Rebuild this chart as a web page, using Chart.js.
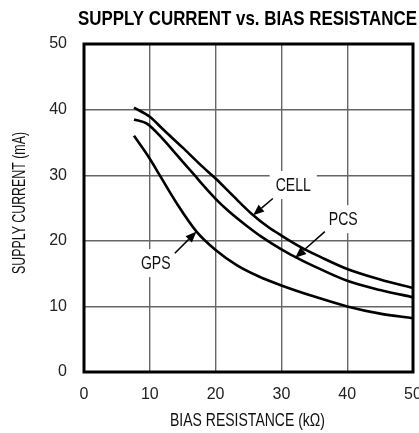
<!DOCTYPE html>
<html>
<head>
<meta charset="utf-8">
<script src="https://cdn.jsdelivr.net/npm/chart.js@4"></script>
<style>
body{margin:0;background:#fff;}
#wrap{width:419px;height:433px;position:relative;}
</style>
</head>
<body>
<div id="wrap"><canvas id="grafico"></canvas></div>
<script>
// DATA
var xTicks = [0,10,20,30,40,50];
var yTicks = [0,10,20,30,40,50];

var cellR = [7.6,10,12,15,18,20,22.7,25.5,28,30,33,36,40,45,50];
var cellI = [40.3,38.9,37.0,34.2,31.3,29.5,26.8,24.1,22.1,20.8,19.0,17.5,15.7,14.1,12.8];

var pcsR = [7.6,9.5,12,14,16.8,18,20,22,24.7,27,30,32,35,40,45,50];
var pcsI = [38.5,37.9,35.5,33.2,30.0,28.6,26.4,24.5,22.3,20.6,18.7,17.6,16.1,13.9,12.5,11.4];

var gpsR = [7.6,10,11.5,14.1,17.1,20,23.2,26.5,30,35,40,45,50];
var gpsI = [36.0,32.5,30.0,25.7,21.4,18.6,16.3,14.6,13.2,11.5,10.0,8.9,8.2];

// rotulos com seta (unidades do grafico)
var notas = [
  {text:"CELL", x:31.8, y:28.5, from:[28.7,26.45], to:[25.7,23.9]},
  {text:"PCS",  x:39.4, y:23.3, from:[36.6,21.4], to:[32.1,17.4]},
  {text:"GPS",  x:10.9, y:16.6, from:[13.8,18.1], to:[17.1,21.4]}
];

var FONTE = '"Liberation Sans", Arial, sans-serif';

function pares(xs, ys){
  return xs.map(function(v,i){ return {x:v, y:ys[i]}; });
}

function serie(nome, xs, ys){
  return {
    label:nome,
    data:pares(xs, ys),
    showLine:true,
    borderColor:"#000",
    borderWidth:2.6,
    pointRadius:0,
    fill:false,
    cubicInterpolationMode:"monotone"
  };
}

// texto "condensado": escala horizontal
function texto(c, t, font, x, y, larg, rot){
  c.save();
  c.font = font;
  var w = c.measureText(t).width;
  var f = larg ? larg / w : 0.74;
  c.translate(x, y);
  if (rot) c.rotate(rot);
  c.scale(f, 1);
  c.textAlign = "center";
  c.fillText(t, 0, 0);
  c.restore();
}

/* =======================
   PLUGIN - TITULO, BORDA, SETAS
======================= */
var extras = {
  id:"extras",
  afterDatasetsDraw:function(chart){
    var c = chart.ctx, a = chart.chartArea;
    var sx = chart.scales.x, sy = chart.scales.y;
    c.save();
    notas.forEach(function(n){
      var px = sx.getPixelForValue(n.x), py = sy.getPixelForValue(n.y);
      c.font = "19px " + FONTE;
      var w = c.measureText(n.text).width * 0.74;
      c.fillStyle = "#fff";
      c.fillRect(px - w/2 - 6, py - 14, w + 12, 28);
      c.fillStyle = "#111";
      c.textBaseline = "middle";
      texto(c, n.text, "19px " + FONTE, px, py + 1);
      // seta
      var x1 = sx.getPixelForValue(n.from[0]), y1 = sy.getPixelForValue(n.from[1]);
      var x2 = sx.getPixelForValue(n.to[0]), y2 = sy.getPixelForValue(n.to[1]);
      var ang = Math.atan2(y2 - y1, x2 - x1);
      var L = 11, W = 4.5;
      var bx = x2 - L*Math.cos(ang), by = y2 - L*Math.sin(ang);
      c.strokeStyle = "#000";
      c.lineWidth = 1.5;
      c.beginPath(); c.moveTo(x1,y1); c.lineTo(bx,by); c.stroke();
      c.fillStyle = "#000";
      c.beginPath();
      c.moveTo(x2,y2);
      c.lineTo(bx + W*Math.sin(ang), by - W*Math.cos(ang));
      c.lineTo(bx - W*Math.sin(ang), by + W*Math.cos(ang));
      c.closePath(); c.fill();
    });
    // borda
    c.strokeStyle = "#000";
    c.lineWidth = 3;
    c.strokeRect(a.left, a.top, a.right - a.left, a.bottom - a.top);
    // titulos
    c.textBaseline = "alphabetic";
    c.fillStyle = "#000";
    texto(c, "SUPPLY CURRENT vs. BIAS RESISTANCE", "bold 21px " + FONTE, 247.5, 25, 339);
    c.fillStyle = "#111";
    c.textBaseline = "middle";
    texto(c, "BIAS RESISTANCE (k\u03A9)", "18px " + FONTE, 247.5, 421.5, 155);
    texto(c, "SUPPLY CURRENT (mA)", "18px " + FONTE, 20.5, 203, 142, -Math.PI/2);
    c.restore();
  }
};

new Chart(document.getElementById("grafico"),{
type:"scatter",
data:{
datasets:[
  serie("CELL", cellR, cellI),
  serie("PCS", pcsR, pcsI),
  serie("GPS", gpsR, gpsI)
]
},
options:{
responsive:true,
maintainAspectRatio:false,
animation:false,
layout:{padding:{top:44,right:6,left:0,bottom:0}},
plugins:{legend:{display:false},tooltip:{enabled:false}},
scales:{
x:{
  type:"linear", min:0, max:50,
  afterBuildTicks:function(s){ s.ticks = xTicks.map(function(v){return {value:v};}); },
  afterFit:function(s){ s.height = 61; s.paddingLeft = 0; s.paddingRight = 0; },
  grid:{color:"#666", lineWidth:1.4, drawTicks:false},
  border:{display:false},
  ticks:{padding:13, color:"#222", font:{family:FONTE, size:16}}
},
y:{
  type:"linear", min:0, max:50,
  afterBuildTicks:function(s){ s.ticks = yTicks.map(function(v){return {value:v};}); },
  afterFit:function(s){ s.width = 84; s.paddingTop = 0; s.paddingBottom = 0; },
  grid:{color:"#666", lineWidth:1.4, drawTicks:false},
  border:{display:false},
  ticks:{padding:17, color:"#222", font:{family:FONTE, size:16}}
}
}
},
plugins:[extras]
});
</script>
</body>
</html>
